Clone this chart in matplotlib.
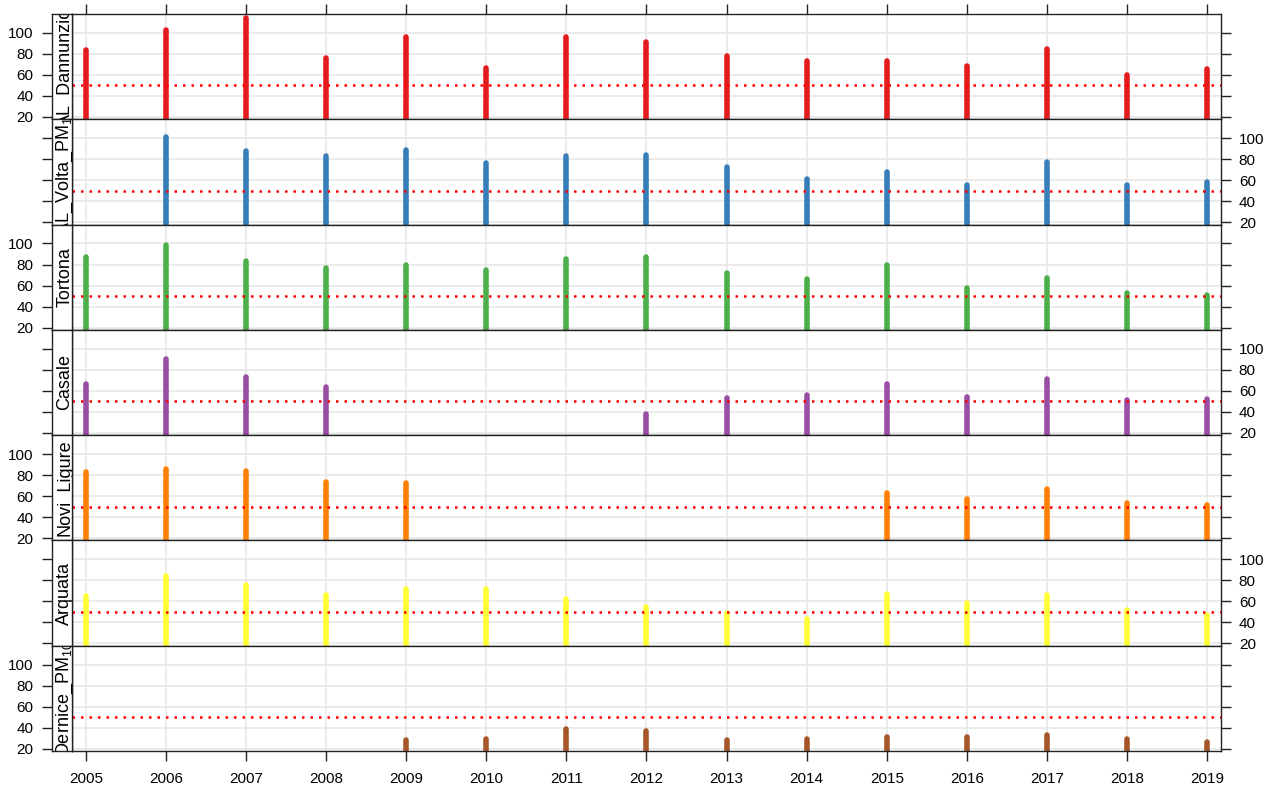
import numpy as np
import matplotlib
matplotlib.use('Agg')
from matplotlib import pyplot as plt

plt.rcParams['font.family'] = ['Liberation Sans', 'DejaVu Sans']
plt.rcParams['mathtext.fontset'] = 'custom'
plt.rcParams['mathtext.rm'] = 'Liberation Sans'
plt.rcParams['mathtext.default'] = 'regular'

# Anni e stazioni
years = np.arange(2005, 2020)
stations = ['AL_Dannunzio', 'AL_Volta_PM$_{10}$', 'Tortona', 'Casale',
            'Novi_Ligure', 'Arquata', 'Dernice_PM$_{10}$']
colors = ['#E41A1C', '#377EB8', '#4DAF4A', '#984EA3', '#FF7F00', '#FFFF33', '#A65628']

nan = np.nan
dannunzio = [84, 103, 114, 76.5, 96, 67, 96, 91.5, 78, 73.5, 73.5, 68.5, 85, 60, 66]
volta = [nan, 101.5, 88, 83, 89, 76, 83, 84, 72.5, 61, 67.5, 55.5, 77.5, 55.5, 58.5]
tortona = [87.5, 98.5, 83, 77, 79.5, 74.5, 85, 87.5, 71.5, 66.5, 79.5, 58, 67.5, 52.5, 51]
casale = [66, 90, 73, 63.5, nan, nan, nan, 38, 53.5, 56, 66.5, 54.5, 71.5, 51, 52.5]
novi = [82.5, 86, 84, 73, 72, nan, nan, nan, nan, nan, 63, 57.5, 67, 53.5, 51.5]
arquata = [65, 84, 75.5, 66, 72, 72, 62, 55, 49, 43, 67, 58.5, 66, 51.5, 47]
dernice = [nan, nan, nan, nan, 28.5, 29.5, 39, 37, 28, 29, 31, 31, 33, 29, 26]
series = [dannunzio, volta, tortona, casale, novi, arquata, dernice]

limit = 50
yticks = [20, 40, 60, 80, 100]
ylim = (17.8, 118)
xlim = (2004.83, 2019.17)

W, H = 1275, 790
fig = plt.figure(figsize=(W / 100, H / 100), dpi=100)

px_left, px_right = 72.3, 1220.7
strip_left = 51.7
top, bottom = 14, 751
ph = (bottom - top) / len(series)
base_x = (69.3 - strip_left) / (px_left - strip_left)

for i, (name, vals, col) in enumerate(zip(stations, series, colors)):
    y_bot = 1 - (top + (i + 1) * ph) / H
    ax = fig.add_axes([px_left / W, y_bot, (px_right - px_left) / W, ph / H])
    sax = fig.add_axes([strip_left / W, y_bot, (px_left - strip_left) / W, ph / H])

    vals = np.array(vals, dtype=float)
    ok = ~np.isnan(vals)

    # griglia
    for yt in yticks:
        ax.axhline(yt, color='#e6e6e6', lw=1.1, zorder=0)
    for yr in years:
        ax.axvline(yr, color='#e6e6e6', lw=1.1, zorder=0)

    ax.vlines(years[ok], 0, vals[ok], colors=col, lw=4.0, capstyle='round', zorder=2)
    ax.axhline(limit, color='red', lw=1.8, ls=(0, (1.0, 2.4)), zorder=3)

    ax.set_xlim(*xlim)
    ax.set_ylim(*ylim)
    sax.set_ylim(*ylim)
    sax.set_xlim(0, 1)

    for a in (ax, sax):
        for sp in a.spines.values():
            sp.set_color('#222222')
            sp.set_linewidth(1.0)

    # asse x
    ax.set_xticks(years)
    ax.set_xticklabels([str(y) for y in years])
    ax.tick_params(axis='x', direction='out', length=7, width=1, color='#222222',
                   labelsize=11, pad=8,
                   bottom=(i == len(series) - 1), labelbottom=(i == len(series) - 1),
                   top=(i == 0), labeltop=False)

    # asse y: destra sul pannello, sinistra sulla striscia
    ax.set_yticks(yticks)
    ax.yaxis.tick_right()
    ax.tick_params(axis='y', direction='out', length=7, width=1, color='#222222',
                   labelsize=11, pad=6, left=False, labelleft=False,
                   right=True, labelright=(i % 2 == 1))

    sax.set_yticks(yticks)
    sax.set_xticks([])
    sax.tick_params(axis='y', direction='out', length=7, width=1, color='#222222',
                    labelsize=11, pad=6, left=True, labelleft=(i % 2 == 0),
                    right=False, labelright=False)

    sax.text(base_x, 0.5, name, rotation=90, rotation_mode='anchor',
             ha='center', va='baseline', transform=sax.transAxes,
             clip_on=True, fontsize=13)

fig.savefig('out.png', dpi=100)
